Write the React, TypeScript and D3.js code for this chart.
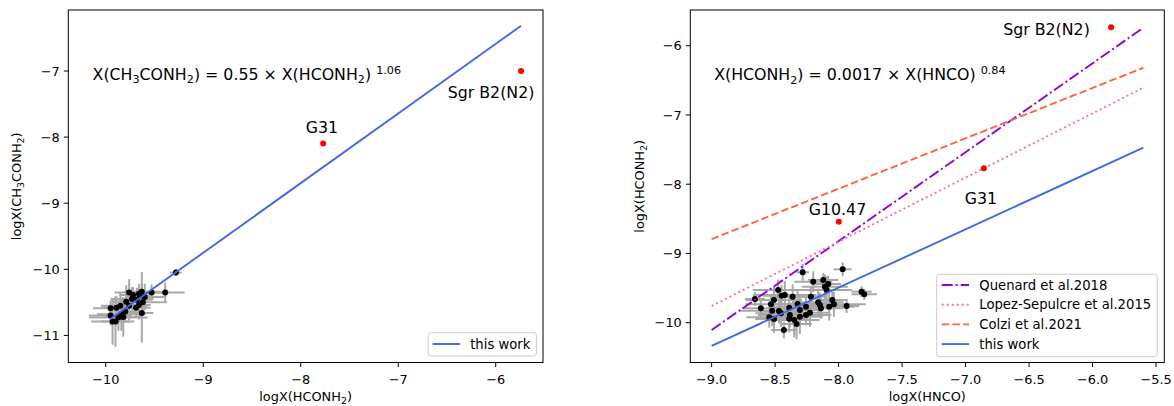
import React from 'react';
import * as d3 from 'd3';

// ---------------- DATA ----------------
// Left panel: logX(HCONH2) vs logX(CH3CONH2)
const leftX = [-9.28, -9.39, -9.53, -9.76, -9.63, -9.66, -9.73, -9.79, -9.60, -9.62, -9.66, -9.69, -9.85, -9.89, -9.95, -9.84, -9.80, -9.82, -9.87, -9.93, -9.90, -9.63, -9.72, -9.68, -9.65, -9.76, -9.95];
const leftY = [-10.05, -10.35, -10.35, -10.35, -10.34, -10.37, -10.45, -10.49, -10.42, -10.50, -10.54, -10.58, -10.55, -10.58, -10.59, -10.68, -10.64, -10.72, -10.73, -10.79, -10.79, -10.66, -10.39, -10.46, -10.40, -10.55, -10.70];
const leftXerr = [0.06, 0.20, 0.12, 0.15, 0.18, 0.10, 0.22, 0.15, 0.20, 0.25, 0.12, 0.15, 0.20, 0.15, 0.18, 0.25, 0.12, 0.20, 0.30, 0.22, 0.15, 0.12, 0.14, 0.16, 0.10, 0.18, 0.22];
const leftYerr = [0.05, 0.15, 0.12, 0.20, 0.30, 0.15, 0.18, 0.25, 0.20, 0.12, 0.22, 0.15, 0.20, 0.18, 0.12, 0.25, 0.15, 0.30, 0.20, 0.35, 0.38, 0.45, 0.12, 0.18, 0.10, 0.22, 0.15];

const leftSrcNames = ['Sgr B2(N2)', 'G31'];
const leftSrcX = [-5.74, -7.77];
const leftSrcY = [-7.0, -8.095];

const leftFitX = [-9.956, -5.74];
const leftFitY = [-10.757, -6.315];

// Right panel: logX(HNCO) vs logX(HCONH2)
const rightX = [-8.283, -7.968, -8.200, -8.121, -8.108, -8.082, -8.094, -7.819, -7.798, -8.476, -8.423, -8.449, -8.362, -8.659, -8.509, -8.533, -8.612, -8.523, -8.470, -8.454, -8.389, -8.323, -8.305, -8.257, -8.218, -8.161, -8.147, -8.139, -8.074, -8.050, -8.037, -7.937, -8.226, -8.257, -8.305, -8.384, -8.389, -8.350, -8.331, -8.546, -8.509, -8.431];
const rightY = [-9.272, -9.229, -9.408, -9.383, -9.480, -9.441, -9.528, -9.552, -9.590, -9.528, -9.600, -9.610, -9.624, -9.657, -9.672, -9.734, -9.792, -9.827, -9.831, -9.864, -9.783, -9.730, -9.817, -9.769, -9.624, -9.706, -9.745, -9.792, -9.769, -9.672, -9.734, -9.759, -9.856, -9.889, -9.913, -9.889, -9.942, -9.961, -10.019, -9.922, -9.947, -10.105];
const rightXerr = [0.05, 0.07, 0.15, 0.12, 0.18, 0.10, 0.20, 0.08, 0.10, 0.20, 0.25, 0.15, 0.18, 0.08, 0.22, 0.20, 0.15, 0.25, 0.12, 0.20, 0.15, 0.22, 0.18, 0.25, 0.12, 0.20, 0.15, 0.18, 0.20, 0.12, 0.25, 0.10, 0.15, 0.20, 0.18, 0.25, 0.15, 0.20, 0.12, 0.18, 0.15, 0.10];
const rightYerr = [0.12, 0.10, 0.15, 0.10, 0.18, 0.12, 0.20, 0.08, 0.08, 0.15, 0.20, 0.15, 0.18, 0.10, 0.20, 0.15, 0.15, 0.22, 0.18, 0.20, 0.15, 0.20, 0.22, 0.18, 0.15, 0.20, 0.18, 0.15, 0.20, 0.12, 0.18, 0.10, 0.20, 0.15, 0.25, 0.18, 0.20, 0.25, 0.22, 0.15, 0.20, 0.12];

const rightSrcNames = ['Sgr B2(N2)', 'G10.47', 'G31'];
const rightSrcX = [-5.854, -7.998, -6.856];
const rightSrcY = [-5.734, -8.544, -7.77];

const rightFitNames = ['Quenard et al.2018', 'Lopez-Sepulcre et al.2015', 'Colzi et al.2021', 'this work'];
const rightFitX = [-9.0, -5.6];
const rightFitY = [
  [-10.106, -5.74],
  [-9.759, -6.606],
  [-8.793, -6.318],
  [-10.336, -7.472],
];

const leftXTicks = [-10, -9, -8, -7, -6];
const leftYTicks = [-11, -10, -9, -8, -7];
const rightXTicks = [-9.0, -8.5, -8.0, -7.5, -7.0, -6.5, -6.0, -5.5];
const rightYTicks = [-10, -9, -8, -7, -6];

// ---------------- STYLE ----------------
const FONT = "'DejaVu Sans', sans-serif";
const fitColors = ['#9400d3', '#ff69b4', '#ff6347', '#4169e1'];
const fitDash = ['11 3 2 3', '2 3', '7.5 3.2', null];
const ERR = '#a8a8a8';

const minus = (v: number, dec: number) => (v < 0 ? '\u2212' : '') + Math.abs(v).toFixed(dec);

function Axes({ x0, x1, y0, y1, xs, ys, xTicks, yTicks, dec }: any) {
  return (
    <g>
      <rect x={x0} y={y0} width={x1 - x0} height={y1 - y0} fill="none" stroke="#000" strokeWidth={1} />
      {xTicks.map((t: number) => (
        <g key={'x' + t}>
          <line x1={xs(t)} x2={xs(t)} y1={y1} y2={y1 + 4.5} stroke="#000" strokeWidth={1} />
          <text x={xs(t)} y={y1 + 21} textAnchor="middle" fontSize={12.9} fontFamily={FONT}>{minus(t, dec)}</text>
        </g>
      ))}
      {yTicks.map((t: number) => (
        <g key={'y' + t}>
          <line x1={x0 - 4.5} x2={x0} y1={ys(t)} y2={ys(t)} stroke="#000" strokeWidth={1} />
          <text x={x0 - 8.5} y={ys(t) + 4.6} textAnchor="end" fontSize={12.9} fontFamily={FONT}>{minus(t, 0)}</text>
        </g>
      ))}
    </g>
  );
}

function Cluster({ X, Y, XE, YE, xs, ys }: any) {
  return (
    <g>
      {X.map((x: number, i: number) => (
        <g key={'e' + i}>
          <line x1={xs(x - XE[i])} x2={xs(x + XE[i])} y1={ys(Y[i])} y2={ys(Y[i])} stroke={ERR} strokeWidth={2} />
          <line x1={xs(x)} x2={xs(x)} y1={ys(Y[i] - YE[i])} y2={ys(Y[i] + YE[i])} stroke={ERR} strokeWidth={2} />
        </g>
      ))}
      {X.map((x: number, i: number) => (
        <circle key={'p' + i} cx={xs(x)} cy={ys(Y[i])} r={3} fill="#000" />
      ))}
    </g>
  );
}

export default function App() {
  // Left panel
  const L = { x0: 68.3, x1: 543, y0: 10, y1: 362.5 };
  const lxs = d3.scaleLinear().domain([-10.384, -5.515]).range([L.x0, L.x1]);
  const lys = d3.scaleLinear().domain([-11.41, -6.077]).range([L.y1, L.y0]);
  // Right panel
  const R = { x0: 690.3, x1: 1164.3, y0: 10, y1: 362.5 };
  const rxs = d3.scaleLinear().domain([-9.168, -5.435]).range([R.x0, R.x1]);
  const rys = d3.scaleLinear().domain([-10.575, -5.484]).range([R.y1, R.y0]);

  const lLine = d3.line<number>().x((d, i) => lxs(leftFitX[i])).y(d => lys(d));
  const rLine = d3.line<number>().x((d, i) => rxs(rightFitX[i])).y(d => rys(d));

  const subFs = 9.5;
  const eqFs = 15.8;
  const eqSub = 11.2;

  return (
    <svg width={1174} height={406} style={{ position: 'absolute', left: 0, top: 0, background: '#fff' }} fontFamily={FONT}>
      <rect x={0} y={0} width={1174} height={406} fill="#fff" />

      {/* ---------- LEFT ---------- */}
      <Cluster X={leftX} Y={leftY} XE={leftXerr} YE={leftYerr} xs={lxs} ys={lys} />
      <path d={lLine(leftFitY) || ''} fill="none" stroke={fitColors[3]} strokeWidth={1.9} />
      {leftSrcX.map((x, i) => (
        <circle key={'ls' + i} cx={lxs(x)} cy={lys(leftSrcY[i])} r={3} fill="#ff0000" />
      ))}
      <text x={lxs(-6.048)} y={lys(-7.41)} textAnchor="middle" fontSize={eqFs}>{leftSrcNames[0]}</text>
      <text x={lxs(-7.782)} y={lys(-7.94)} textAnchor="middle" fontSize={eqFs}>{leftSrcNames[1]}</text>
      <text x={lxs(-10.135)} y={lys(-7.136)} fontSize={eqFs}>
        X(CH<tspan dy={3.5} fontSize={eqSub}>3</tspan><tspan dy={-3.5}>CONH</tspan><tspan dy={3.5} fontSize={eqSub}>2</tspan><tspan dy={-3.5}>) = 0.55 × X(HCONH</tspan><tspan dy={3.5} fontSize={eqSub}>2</tspan><tspan dy={-3.5}>) </tspan><tspan dy={-6} fontSize={eqSub}>1.06</tspan>
      </text>
      <Axes x0={L.x0} x1={L.x1} y0={L.y0} y1={L.y1} xs={lxs} ys={lys} xTicks={leftXTicks} yTicks={leftYTicks} dec={0} />
      {/* left legend */}
      <rect x={428.2} y={332.7} width={108.3} height={23.3} rx={3} fill="#fff" fillOpacity={0.8} stroke="#cccccc" strokeWidth={1} />
      <line x1={432.7} x2={460.1} y1={344} y2={344} stroke={fitColors[3]} strokeWidth={1.9} />
      <text x={470.2} y={348.6} fontSize={13.2}>this work</text>
      {/* left axis labels */}
      <text x={(L.x0 + L.x1) / 2} y={401} textAnchor="middle" fontSize={12.9}>
        logX(HCONH<tspan dy={3} fontSize={subFs}>2</tspan><tspan dy={-3}>)</tspan>
      </text>
      <text transform={`translate(20.5,${(L.y0 + L.y1) / 2}) rotate(-90)`} textAnchor="middle" fontSize={12.9}>
        logX(CH<tspan dy={3} fontSize={subFs}>3</tspan><tspan dy={-3}>CONH</tspan><tspan dy={3} fontSize={subFs}>2</tspan><tspan dy={-3}>)</tspan>
      </text>

      {/* ---------- RIGHT ---------- */}
      <Cluster X={rightX} Y={rightY} XE={rightXerr} YE={rightYerr} xs={rxs} ys={rys} />
      {rightFitY.map((ys, i) => (
        <path key={'rf' + i} d={rLine(ys) || ''} fill="none" stroke={fitColors[i]} strokeWidth={1.9}
          strokeDasharray={fitDash[i] || undefined} />
      ))}
      {rightSrcX.map((x, i) => (
        <circle key={'rs' + i} cx={rxs(x)} cy={rys(rightSrcY[i])} r={3} fill="#ff0000" />
      ))}
      <text x={rxs(-6.704)} y={rys(-5.845)} fontSize={eqFs}>{rightSrcNames[0]}</text>
      <text x={rxs(-8.009)} y={rys(-8.447)} textAnchor="middle" fontSize={eqFs}>{rightSrcNames[1]}</text>
      <text x={rxs(-6.88)} y={rys(-8.289)} textAnchor="middle" fontSize={eqFs}>{rightSrcNames[2]}</text>
      <text x={rxs(-8.98)} y={rys(-6.50)} fontSize={eqFs}>
        X(HCONH<tspan dy={3.5} fontSize={eqSub}>2</tspan><tspan dy={-3.5}>) = 0.0017 × X(HNCO) </tspan><tspan dy={-6} fontSize={eqSub}>0.84</tspan>
      </text>
      <Axes x0={R.x0} x1={R.x1} y0={R.y0} y1={R.y1} xs={rxs} ys={rys} xTicks={rightXTicks} yTicks={rightYTicks} dec={1} />
      {/* right legend */}
      <rect x={936.7} y={274.3} width={220.6} height={82.4} rx={3} fill="#fff" fillOpacity={0.8} stroke="#cccccc" strokeWidth={1} />
      {rightFitNames.map((n, i) => {
        const cy = 285 + i * 19.7;
        return (
          <g key={'lg' + i}>
            <line x1={941.7} x2={969} y1={cy} y2={cy} stroke={fitColors[i]} strokeWidth={1.9} strokeDasharray={fitDash[i] || undefined} />
            <text x={979.3} y={cy + 4.6} fontSize={13.2}>{n}</text>
          </g>
        );
      })}
      <text x={(R.x0 + R.x1) / 2} y={401} textAnchor="middle" fontSize={12.9}>logX(HNCO)</text>
      <text transform={`translate(644,${(R.y0 + R.y1) / 2}) rotate(-90)`} textAnchor="middle" fontSize={12.9}>
        logX(HCONH<tspan dy={3} fontSize={subFs}>2</tspan><tspan dy={-3}>)</tspan>
      </text>
    </svg>
  );
}
